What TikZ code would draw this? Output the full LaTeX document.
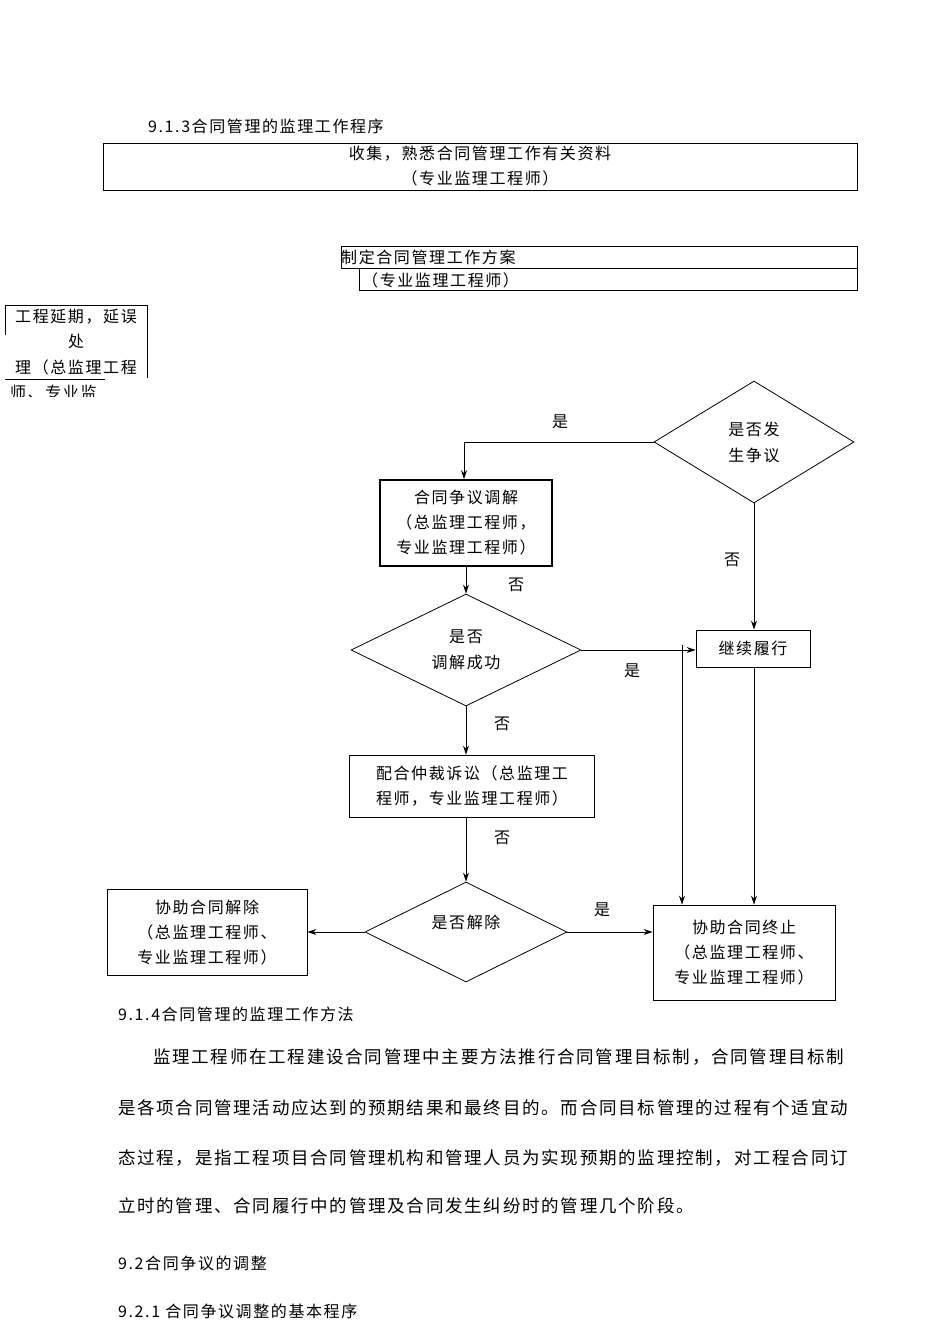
\documentclass[tikz,border=0pt]{standalone}
\usepackage{fontspec}
\setmainfont{Noto Sans CJK SC}[LetterSpace=10]
\usetikzlibrary{shapes.geometric,arrows.meta}
\begin{document}
\begin{tikzpicture}[x=1pt,y=-1pt,
  txt/.style={inner sep=0pt,font=\fontsize{16}{26}\selectfont,align=center},
  body/.style={inner sep=0pt,anchor=west,font=\fontsize{17.5}{20}\selectfont},
  bx/.style={draw,line width=0.8pt,inner sep=0pt,align=center,font=\fontsize{16}{25}\selectfont},
  dm/.style={draw,diamond,line width=0.8pt,inner sep=0pt,align=center,font=\fontsize{16}{26}\selectfont},
  arr/.style={line width=1pt,-{Stealth[length=9pt,width=6pt]}},
  ln/.style={line width=1pt}]
\useasboundingbox (0,0) rectangle (950,1344);
\node[body,font=\fontsize{16}{20}\selectfont] (t1) at (148,126) {9.1.3合同管理的监理工作程序};
\node[bx,minimum width=754pt,minimum height=47pt] (b0) at (480,166.5) {收集，熟悉合同管理工作有关资料\\（专业监理工程师）};
\draw[line width=0.8pt] (341,246) rectangle (857,268);
\draw[line width=0.8pt] (359,268) rectangle (857,290);
\node[txt,anchor=west] (b0a) at (341,257) {制定合同管理工作方案};
\node[txt,anchor=west] (b0b) at (362,280) {（专业监理工程师）};
\begin{scope}
\clip (0,300) rectangle (160,396);
\draw[line width=0.8pt] (5,335) -- (5,305) -- (147,305) -- (147,378);
\node[txt] (l1) at (76,317) {工程延期，延误};
\node[txt] (l2) at (76,341) {处};
\node[txt] (l3) at (76,367) {理（总监理工程};
\node[txt,anchor=west] (l4) at (10,392) {师、专业监};
\end{scope}
\draw[line width=0.8pt] (5,379) -- (105,379);
% flowchart
\node[dm,minimum width=200pt,minimum height=122pt] (d1) at (754,442) {是否发\\生争议};
\node[bx,line width=1.6pt,minimum width=172pt,minimum height=86pt] (b1) at (466,523) {合同争议调解\\（总监理工程师，\\专业监理工程师）};
\node[dm,minimum width=230pt,minimum height=112pt] (d2) at (466,650) {是否\\调解成功};
\node[bx,minimum width=114pt,minimum height=37pt] (bc) at (753,648.5) {继续履行};
\node[bx,minimum width=245pt,minimum height=62pt] (b3) at (472,786) {配合仲裁诉讼（总监理工\\程师，专业监理工程师）};
\node[dm,minimum width=202pt,minimum height=100pt] (d3) at (466,932) {};
\node[txt] (d3t) at (466,922) {是否解除};
\node[bx,minimum width=200pt,minimum height=86pt] (b4) at (207,932) {协助合同解除\\（总监理工程师、\\专业监理工程师）};
\node[bx,minimum width=182pt,minimum height=95pt] (b5) at (744,952.5) {协助合同终止\\（总监理工程师、\\专业监理工程师）};
\coordinate (c1) at (464,442);
\draw[arr] (d1.west) -- (c1) -- (b1.north -| c1);
\draw[arr] (d1.south) -- (bc.north -| d1.south);
\draw[arr] (b1.south -| d2.north) -- (d2.north);
\draw[arr] (d2.east) -- (d2.east -| bc.west);
\draw[arr] (d2.south) -- (b3.north -| d2.south);
\draw[arr] (b3.south -| d3.north) -- (d3.north);
\draw[arr] (d3.west) -- (b4.east);
\draw[arr] (d3.east) -- (b5.west |- d3.east);
\coordinate (c2) at (682,645);
\draw[arr] (c2) -- (b5.north -| c2);
\draw[arr] (bc.south -| 754,0) -- (b5.north -| 754,0);
\node[txt] (y1) at (560,422) {是};
\node[txt] (n1) at (732,560) {否};
\node[txt] (n2) at (516,585) {否};
\node[txt] (y2) at (632,671) {是};
\node[txt] (n3) at (502,724) {否};
\node[txt] (n4) at (502,838) {否};
\node[txt] (y3) at (602,910) {是};
% text below
\node[body,font=\fontsize{16}{20}\selectfont] (t2) at (118,1014) {9.1.4合同管理的监理工作方法};
\node[body] (p1) at (153,1057) {监理工程师在工程建设合同管理中主要方法推行合同管理目标制，合同管理目标制};
\node[body] (p2) at (118,1108) {是各项合同管理活动应达到的预期结果和最终目的。而合同目标管理的过程有个适宜动};
\node[body] (p3) at (118,1158) {态过程，是指工程项目合同管理机构和管理人员为实现预期的监理控制，对工程合同订};
\node[body] (p4) at (118,1206) {立时的管理、合同履行中的管理及合同发生纠纷时的管理几个阶段。};
\node[body,font=\fontsize{16}{20}\selectfont] (t3) at (118,1263) {9.2合同争议的调整};
\node[body,font=\fontsize{16}{20}\selectfont] (t4) at (118,1311) {9.2.1 合同争议调整的基本程序};
\end{tikzpicture}
\end{document}
